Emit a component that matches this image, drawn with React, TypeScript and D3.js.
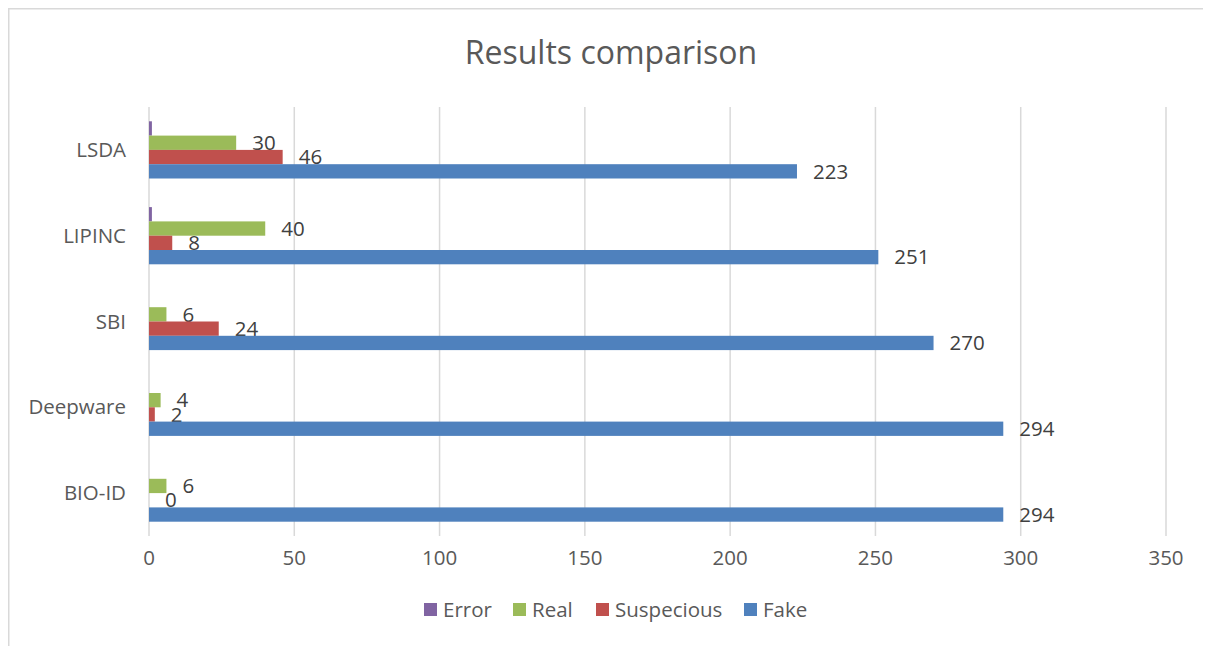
import * as d3 from "d3";
import { useEffect, useRef } from "react";

// данные графика
const categories = ["LSDA", "LIPINC", "SBI", "Deepware", "BIO-ID"];
const seriesNames = ["Error", "Real", "Suspecious", "Fake"];
const errorValues = [1, 1, 0, 0, 0];
const realValues = [30, 40, 6, 4, 6];
const suspeciousValues = [46, 8, 24, 2, 0];
const fakeValues = [223, 251, 270, 294, 294];
const xTicks = [0, 50, 100, 150, 200, 250, 300, 350];
const colors = ["#8064a2", "#9bbb59", "#c0504d", "#4f81bd"];
const showLabels = [false, true, true, true];

const FONT = "'Open Sans', sans-serif";

const App = () => {
    const ref = useRef(null);
    const width = 1203;
    const height = 638;

    useEffect(() => {
        const svg = d3.select(ref.current);
        svg.selectAll("*").remove();

        // координаты в системе страницы (svg сдвинут на 8px отступом body)
        const root = svg.append("g").attr("transform", "translate(-8,-8)");

        // рамка диаграммы (видны только верх и левый край)
        root.append("path")
            .attr("d", "M8.75,646 L8.75,8.75 L1211,8.75")
            .attr("fill", "none")
            .attr("stroke", "#d9d9d9")
            .attr("stroke-width", 1.5);

        root.append("text")
            .attr("x", 611)
            .attr("y", 64)
            .attr("text-anchor", "middle")
            .style("font-family", FONT)
            .style("font-size", "32px")
            .style("fill", "#595959")
            .text("Results comparison");

        const x = d3.scaleLinear().domain([0, 350]).range([149, 1166]);
        const y = d3.scaleBand().domain(categories).range([107, 536]).padding(0);
        const bw = y.bandwidth();
        const inner = d3.scaleBand().domain(seriesNames).range([bw / 6, (bw * 5) / 6]).padding(0);

        // сетка
        root.append("g")
            .selectAll("line")
            .data(xTicks)
            .enter()
            .append("line")
            .attr("x1", d => x(d))
            .attr("x2", d => x(d))
            .attr("y1", 107)
            .attr("y2", 536)
            .attr("stroke", "#d9d9d9")
            .attr("stroke-width", 1.5);

        // подписи оси X
        root.append("g")
            .selectAll("text")
            .data(xTicks)
            .enter()
            .append("text")
            .attr("x", d => x(d))
            .attr("y", 565)
            .attr("text-anchor", "middle")
            .style("font-family", FONT)
            .style("font-size", "20.5px")
            .style("fill", "#595959")
            .text(d => d);

        // подписи категорий
        root.append("g")
            .selectAll("text")
            .data(categories)
            .enter()
            .append("text")
            .attr("x", 126)
            .attr("y", d => y(d) + bw / 2)
            .attr("dy", "0.35em")
            .attr("text-anchor", "end")
            .style("font-family", FONT)
            .style("font-size", "20.5px")
            .style("fill", "#595959")
            .text(d => d);

        const seriesValues = [errorValues, realValues, suspeciousValues, fakeValues];

        seriesNames.forEach((name, si) => {
            const rows = categories.map((c, i) => ({ c, v: seriesValues[si][i] }));
            const g = root.append("g");
            g.selectAll("rect")
                .data(rows)
                .enter()
                .append("rect")
                .attr("x", x(0))
                .attr("y", d => y(d.c) + inner(name))
                .attr("width", d => x(d.v) - x(0))
                .attr("height", inner.bandwidth())
                .style("fill", colors[si]);

            if (showLabels[si]) {
                g.selectAll("text")
                    .data(rows)
                    .enter()
                    .append("text")
                    .attr("x", d => x(d.v) + 16)
                    .attr("y", d => y(d.c) + inner(name) + inner.bandwidth() / 2)
                    .attr("dy", "0.35em")
                    .style("font-family", FONT)
                    .style("font-size", "20.5px")
                    .style("fill", "#404040")
                    .text(d => d.v);
            }
        });

        // легенда
        const legendX = [424, 513, 596, 744];
        const legend = root.append("g");
        seriesNames.forEach((name, i) => {
            legend.append("rect")
                .attr("x", legendX[i])
                .attr("y", 603)
                .attr("width", 13)
                .attr("height", 13)
                .style("fill", colors[i]);
            legend.append("text")
                .attr("x", legendX[i] + 19)
                .attr("y", 609.5)
                .attr("dy", "0.35em")
                .style("font-family", FONT)
                .style("font-size", "20.5px")
                .style("fill", "#595959")
                .text(name);
        });
    }, []);

    return <svg ref={ref} width={width} height={height} style={{ display: "block" }}></svg>;
};

export default App;
